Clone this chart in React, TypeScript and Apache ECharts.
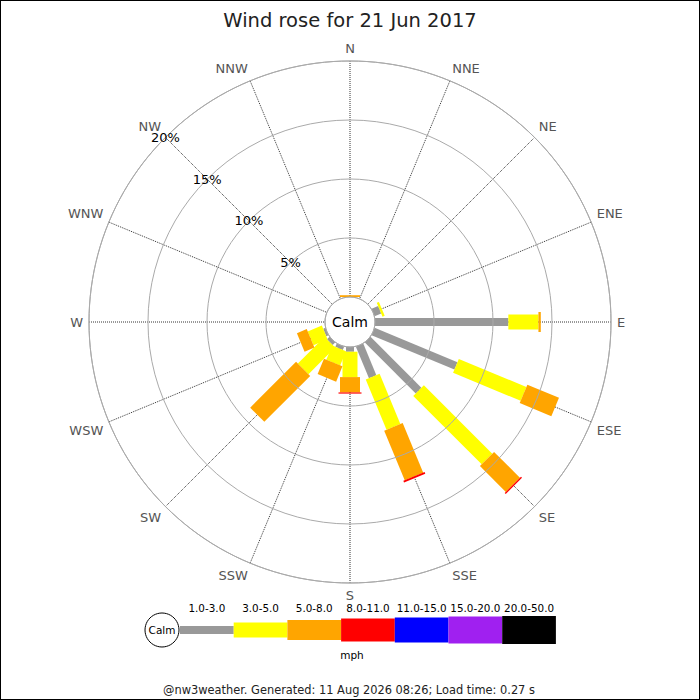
import { useEffect, useRef } from 'react'
import * as echarts from 'echarts'

// 方向（从 N 顺时针）
const directions = ['N', 'NNE', 'NE', 'ENE', 'E', 'ESE', 'SE', 'SSE', 'S', 'SSW', 'SW', 'WSW', 'W', 'WNW', 'NW', 'NNW']
// 风速分档（mph）
const speedBands = ['1.0-3.0', '3.0-5.0', '5.0-8.0', '8.0-11.0', '11.0-15.0', '15.0-20.0', '20.0-50.0']
const bandColors = ['#999999', '#ffff00', '#ffa500', '#ff0000', '#0000ff', '#a020f0', '#000000']
// 每档柱子的宽度（px）
const bandWidths = [8, 15, 20, 23, 25, 27, 28]

// 每个方向在各分档的百分比（%）
const band1to3 = [0, 0, 0, 0.6, 11.3, 7.6, 6.1, 2.9, 0.4, 0.3, 0.3, 0.2, 0, 0, 0, 0]
const band3to5 = [0, 0, 0, 0.2, 2.55, 6.2, 8.2, 4.6, 2.15, 1.3, 3.2, 1.3, 0, 0, 0, 0]
const band5to8 = [0.15, 0, 0, 0, 0.2, 2.9, 3.1, 4.55, 1.3, 1.4, 5.5, 0.9, 0, 0, 0, 0]
const band8to11 = [0, 0, 0, 0, 0, 0, 0.12, 0.15, 0.1, 0, 0, 0, 0, 0, 0, 0]
const band11to15 = [0, 0, 0, 0, 0, 0, 0, 0, 0, 0, 0, 0, 0, 0, 0, 0]
const band15to20 = [0, 0, 0, 0, 0, 0, 0, 0, 0, 0, 0, 0, 0, 0, 0, 0]
const band20to50 = [0, 0, 0, 0, 0, 0, 0, 0, 0, 0, 0, 0, 0, 0, 0, 0]

// 径向刻度（%）
const radiusTicks = { min: 0, max: 20, step: 5 }

const title = 'Wind rose for 21 Jun 2017'
const footer = '@nw3weather. Generated: 11 Aug 2026 08:26; Load time: 0.27 s'

const App: React.FC = () => {
  const chartRef = useRef<HTMLDivElement>(null)

  useEffect(() => {
    if (!chartRef.current) return
    const chart = echarts.init(chartRef.current, undefined, { renderer: 'svg' })

    const bands = [band1to3, band3to5, band5to8, band8to11, band11to15, band15to20, band20to50]
    // [角度值, 起点, 终点, 分档]
    const rows: number[][] = []
    directions.forEach((_, d) => {
      const angle = d >= 14 ? d - 16 : d
      let acc = 0
      bands.forEach((arr, b) => {
        const v = arr[d]
        if (v > 0) rows.push([angle, acc, acc + v, b])
        acc += v
      })
    })

    // 图例
    const legendX = 180
    const legendW = 53.7
    const legendY = 630
    const legendGraphics: any[] = [
      {
        type: 'circle',
        shape: { cx: 162, cy: legendY, r: 17 },
        style: { fill: '#fff', stroke: '#000', lineWidth: 1 },
      },
      {
        type: 'text',
        x: 162, y: legendY,
        style: { text: 'Calm', fontSize: 10.5, fill: '#000', align: 'center', verticalAlign: 'middle', fontFamily: 'DejaVu Sans' },
      },
    ]
    speedBands.forEach((label, i) => {
      const h = bandWidths[i]
      legendGraphics.push({
        type: 'rect',
        shape: { x: legendX + i * legendW, y: legendY - h / 2, width: legendW, height: h },
        style: { fill: bandColors[i] },
      })
      legendGraphics.push({
        type: 'text',
        x: legendX + i * legendW + legendW / 2, y: 607.5,
        style: { text: label, fontSize: 10.4, fill: '#000', align: 'center', verticalAlign: 'middle', fontFamily: 'DejaVu Sans' },
      })
    })
    legendGraphics.push({
      type: 'text',
      x: 352, y: 655,
      style: { text: 'mph', fontSize: 10.5, fill: '#000', align: 'center', verticalAlign: 'middle', fontFamily: 'DejaVu Sans' },
    })
    legendGraphics.push({
      type: 'text',
      x: 349, y: 690,
      style: { text: footer, fontSize: 11.4, fill: '#222', align: 'center', verticalAlign: 'middle', fontFamily: 'DejaVu Sans' },
    })
    // 中心的 Calm
    legendGraphics.push({
      type: 'text',
      x: 350, y: 322,
      z: 100,
      style: { text: 'Calm', fontSize: 14, fill: '#000', align: 'center', verticalAlign: 'middle', fontFamily: 'DejaVu Sans' },
    })

    const option: any = {
      animation: false,
      backgroundColor: '#fff',
      textStyle: { fontFamily: 'DejaVu Sans' },
      title: {
        text: title,
        left: 'center',
        top: 5,
        textStyle: { fontSize: 19.5, fontWeight: 'normal', color: '#222', fontFamily: 'DejaVu Sans' },
      },
      polar: {
        center: [350, 322],
        radius: [25, 261],
      },
      angleAxis: {
        type: 'value',
        min: -2,
        max: 14,
        interval: 1,
        startAngle: 135,
        clockwise: true,
        axisLine: { show: true, lineStyle: { color: '#aaa', width: 1 } },
        axisTick: { show: false },
        axisLabel: {
          margin: 6,
          color: '#555',
          fontSize: 13,
          formatter: (v: number) => (v === 14 ? '' : directions[(v + 16) % 16]),
        },
        splitLine: { show: true, lineStyle: { color: '#333', type: 'dotted', width: 1 } },
      },
      radiusAxis: {
        type: 'value',
        min: radiusTicks.min,
        max: radiusTicks.max,
        interval: radiusTicks.step,
        z: 10,
        axisLine: { show: false },
        axisTick: { show: false },
        axisLabel: {
          margin: 0,
          align: 'center',
          verticalAlign: 'middle',
          color: '#000',
          fontSize: 13,
          formatter: (v: number) => (v === 0 ? '' : v + '%'),
        },
        splitLine: { show: true, lineStyle: { color: '#aaa', width: 1 } },
      },
      graphic: legendGraphics,
      series: [
        {
          type: 'custom',
          coordinateSystem: 'polar',
          data: rows,
          renderItem: (_params: any, api: any) => {
            const a = api.value(0)
            const s = api.value(1)
            const e = api.value(2)
            const b = api.value(3)
            const c0 = api.coord([0, a])
            const c1 = api.coord([radiusTicks.max, a])
            const dx = c1[0] - c0[0]
            const dy = c1[1] - c0[1]
            const len = Math.sqrt(dx * dx + dy * dy) || 1
            const nx = (-dy / len) * bandWidths[b] / 2
            const ny = (dx / len) * bandWidths[b] / 2
            const p0 = api.coord([s, a])
            const p1 = api.coord([e, a])
            return {
              type: 'polygon',
              shape: {
                points: [
                  [p0[0] + nx, p0[1] + ny],
                  [p1[0] + nx, p1[1] + ny],
                  [p1[0] - nx, p1[1] - ny],
                  [p0[0] - nx, p0[1] - ny],
                ],
              },
              style: { fill: bandColors[b] },
            }
          },
        },
      ],
    }
    chart.setOption(option)

    return () => {
      chart.dispose()
    }
  }, [])

  return (
    <div style={{ position: 'fixed', left: 0, top: 0, width: 700, height: 700 }}>
      <div ref={chartRef} style={{ width: '700px', height: '700px' }} />
      <div
        style={{
          position: 'absolute', left: 0, top: 0, width: 700, height: 700,
          boxSizing: 'border-box', border: '1px solid #000', pointerEvents: 'none',
        }}
      />
    </div>
  )
}

export default App
